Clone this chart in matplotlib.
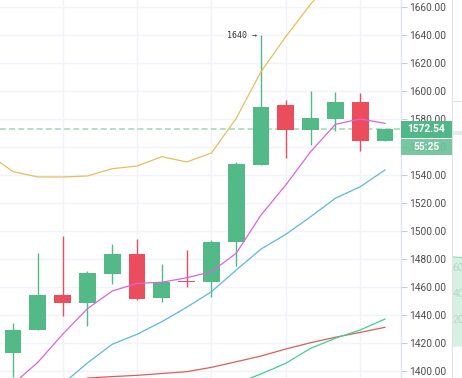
import numpy as np
import matplotlib.pyplot as plt
from matplotlib.patches import Rectangle
from matplotlib import transforms

# candles (oldest -> newest)
opens  = [1412.6, 1429.1, 1454.5, 1448.3, 1469.1, 1483.3, 1452.4, 1464.5,
          1463.3, 1491.9, 1547.4, 1590.0, 1572.1, 1580.0, 1591.9, 1564.5]
highs  = [1434.3, 1484.5, 1496.7, 1471.4, 1490.7, 1494.3, 1476.4, 1486.4,
          1493.6, 1549.5, 1640.0, 1593.6, 1600.2, 1599.5, 1598.8, 1572.54]
lows   = [1396.0, 1429.1, 1439.5, 1432.1, 1461.9, 1450.7, 1449.5, 1459.8,
          1453.1, 1475.2, 1547.4, 1552.4, 1561.4, 1571.6, 1557.1, 1564.5]
closes = [1429.3, 1454.5, 1448.3, 1470.2, 1483.3, 1451.4, 1463.8, 1463.3,
          1492.1, 1547.9, 1588.8, 1572.1, 1581.0, 1591.9, 1564.5, 1572.54]

# indicator lines, each with the candle index it starts at
upper_start, upper = -1, [1555.1, 1542.4, 1538.6, 1538.6, 1539.3, 1544.5, 1546.4, 1553.1,
                          1549.3, 1555.7, 1580.5, 1613.8, 1638.8, 1662.0, 1682.0, 1698.0, 1708.0]
ma_fast_start, ma_fast = 0, [1390.7, 1406.2, 1426.2, 1444.5, 1457.1, 1462.6, 1463.4, 1466.6,
                             1470.9, 1484.1, 1511.4, 1532.9, 1556.6, 1576.2, 1580.0, 1576.9]
ma_mid_start, ma_mid = 2, [1390.7, 1405.7, 1419.1, 1426.2, 1435.2, 1445.5, 1456.6, 1472.1,
                           1487.1, 1497.6, 1510.2, 1523.4, 1531.6, 1543.6]
ma_slow_start, ma_slow = 3, [1395.0, 1396.0, 1396.9, 1398.2, 1399.5, 1402.6, 1406.6, 1410.7,
                             1415.7, 1420.2, 1424.1, 1427.6, 1431.2]
ma_low_start, ma_low = 9, [1391.0, 1397.9, 1405.5, 1416.2, 1423.4, 1429.3, 1437.1]

price_ticks = np.arange(1400, 1661, 20)
countdown = "55:25"
high_label = "1640"

# neighbouring pane (cropped at the right edge)
pane_ticks = [20, 40, 60]
pane_area = [68.5, 68.0]
pane_grid = [188]
pane_cross = 163.8

GREEN = '#53b987'
RED = '#eb4d5c'
GRID = '#f0f3fa'
EDGE = '#e0e3eb'
FONT = 'Roboto'

fig = plt.figure(figsize=(4.62, 3.78), dpi=100)
ax = fig.add_axes([0, 0, 401 / 462, 1])

n = len(opens)
x = np.arange(n)
o = np.array(opens)
c = np.array(closes)
up = c >= o
cols = np.where(up, GREEN, RED)

ax.vlines(x, lows, highs, colors=cols, lw=1.0, zorder=3)
body_h = np.maximum(np.abs(c - o), 1.0)
ax.bar(x, body_h, bottom=np.minimum(o, c), width=0.68, color=cols, lw=0, zorder=4)

def plot_line(start, vals, color):
    ax.plot(np.arange(start, start + len(vals)), vals, color=color, lw=0.9, zorder=5)

plot_line(upper_start, upper, '#e9bd5a')
plot_line(ma_fast_start, ma_fast, '#d865de')
plot_line(ma_mid_start, ma_mid, '#5cb7e3')
plot_line(ma_slow_start, ma_slow, '#dd5e55')
plot_line(ma_low_start, ma_low, '#3fd08f')

last = closes[-1]
ax.axhline(last, color='#a3dbbd', lw=1.2, ls=(0, (3.5, 2)), zorder=2)

# high marker
ax.annotate(high_label + ' \u2192', xy=(10, highs[10]), xytext=(-3, 0),
            textcoords='offset points', ha='right', va='center',
            fontsize=6, family='DejaVu Sans Mono', color='#333333', zorder=6)

ax.set_xlim(-13 / 24.8, 388 / 24.8)
ax.set_ylim(1395, 1665)
ax.set_xticks([2, 5, 8, 11, 14])
ax.set_yticks(price_ticks)
ax.set_yticklabels(['%.2f' % v for v in price_ticks])
ax.yaxis.tick_right()
ax.tick_params(axis='x', length=0, labelbottom=False)
ax.tick_params(axis='y', length=4, width=0.8, color='#c8cbd3', pad=2,
               labelsize=7.3, labelcolor='#4d4d4d')
for lab in ax.get_yticklabels():
    lab.set_family(FONT)
ax.grid(color=GRID, lw=1.0)
ax.set_axisbelow(True)
for s in ['top', 'left', 'bottom']:
    ax.spines[s].set_visible(False)
ax.spines['right'].set_color(EDGE)
ax.spines['right'].set_linewidth(1.0)

# last price + countdown boxes on the price scale
tr = transforms.blended_transform_factory(fig.transFigure, ax.transData)
x0, x1 = 401 / 462, 452 / 462
fig.patches.append(Rectangle((x0, last - 5.9), x1 - x0, 11.9, transform=tr,
                             facecolor='#52b788', edgecolor='none', zorder=10))
fig.patches.append(Rectangle((x0, last - 18.0), x1 - x0, 11.3, transform=tr,
                             facecolor='#6cc39a', alpha=0.92, edgecolor='none', zorder=10))
fig.text((x0 + x1) / 2, last, '%.2f' % last, transform=tr, ha='center', va='center',
         color='white', fontsize=7.3, family=FONT, fontweight='bold', zorder=11)
fig.text((x0 + x1) / 2, last - 12.3, countdown, transform=tr, ha='center', va='center',
         color='white', fontsize=7.3, family=FONT, fontweight='bold', zorder=11)

# cropped neighbour pane
ax2 = fig.add_axes([452 / 462, 0, 10 / 462, 1])
ax2.set_xlim(0, 1)
ax2.set_ylim(-24.6, 266)
ax2.fill_between([0, 1], 0, pane_area, color='#d6f0e3', lw=0)
ax2.plot([0, 1], pane_area, color='#8ad7b0', lw=0.8)
for g in pane_grid:
    ax2.axhline(g, color=EDGE, lw=0.8)
ax2.axhline(pane_cross, color='#e9eaf0', lw=3)
for t in pane_ticks:
    ax2.text(0.08, t, str(t), fontsize=7.3, family=FONT, color='#b5d8c5',
             va='center', ha='left', clip_on=True)
ax2.set_xticks([])
ax2.set_yticks([])
for s in ['top', 'right', 'bottom']:
    ax2.spines[s].set_visible(False)
ax2.spines['left'].set_color(EDGE)

fig.savefig('out.png', dpi=100)
